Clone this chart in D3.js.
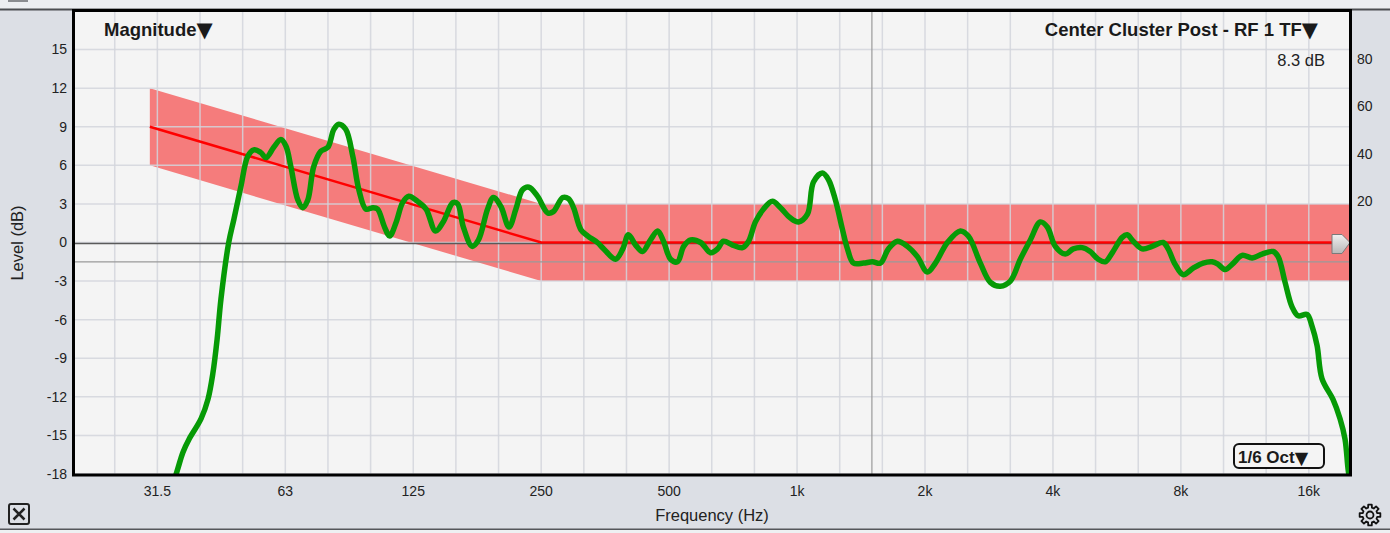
<!DOCTYPE html>
<html>
<head>
<meta charset="utf-8">
<script src="https://cdn.jsdelivr.net/npm/d3@7"></script>
<style>
	html, body { margin: 0; padding: 0; background: #dcdfe5; overflow: hidden; }
	svg { display: block; font-family: "Liberation Sans", Arial, Helvetica, sans-serif; }
</style>
</head>
<body>
<div id="chart"></div>
<script>
// measured transfer function, 1/6 oct smoothing (Hz, dB)
var freqs = [33.3, 34.9, 35.9, 37.1, 39.6, 41.1, 42.2, 43.2, 44.1, 46.0, 47.3, 49.1, 51.0, 52.7, 54.7, 56.3, 58.7,
	61.0, 62.7, 64.4, 66.9, 68.7, 70.6, 72.9, 75.8, 78.7, 81.3, 83.5, 86.7, 90.1, 93.1, 96.7, 100.4, 103, 107, 110,
	114, 118, 122, 128, 134, 141, 147, 155, 159, 164, 172, 178, 187, 193, 201, 210, 218, 226, 234, 245, 259, 267,
	281, 290, 298, 310, 322, 339, 351, 374, 389, 401, 417, 433, 452, 470, 485, 504, 523, 541, 562, 593, 626, 650,
	671, 705, 744, 769, 798, 834, 875, 914, 965, 1008, 1058, 1093, 1147, 1185, 1231, 1279, 1314, 1357, 1433, 1504,
	1571, 1640, 1722, 1818, 1919, 2026, 2116, 2258, 2422, 2529, 2699, 2850, 3008, 3176, 3352, 3539, 3736, 3880,
	4051, 4276, 4465, 4688, 4895, 5112, 5310, 5515, 5822, 5982, 6179, 6488, 6848, 7268, 7467, 7756, 8099, 8550,
	9025, 9476, 9789, 10170, 10560, 11150, 11770, 12420, 13190, 13550, 14070, 14610, 15100, 15850, 16280, 16730,
	17190, 18240, 18950, 19470, 19790, 20000];
var levels = [-19.8, -17.6, -16.3, -15.3, -13.7, -12.2, -10.2, -7.5, -4.4, 0, 1.8, 4.3, 6.7, 7.2, 7.0, 6.6, 7.4,
	8.0, 7.5, 5.9, 3.3, 2.7, 3.3, 5.9, 7.1, 7.4, 8.8, 9.2, 8.8, 6.7, 4.1, 2.6, 2.7, 2.6, 1.2, 0.5,
	1.6, 3.1, 3.6, 3.2, 2.6, 0.9, 1.6, 3.1, 3.0, 1.2, -0.3, 0.2, 2.6, 3.5, 2.8, 1.2, 2.6, 4.1, 4.3, 3.6, 2.3, 2.4,
	3.5, 3.4, 2.7, 1.0, 0.5, 0, -0.5, -1.3, -0.5, 0.6, -0.2, -0.7, 0.2, 0.9, 0.1, -1.3, -1.5, -0.3, 0.2, 0, -0.8, -0.5,
	0.1, -0.2, -0.4, 0.1, 1.6, 2.6, 3.2, 2.7, 1.9, 1.6, 2.2, 4.7, 5.4, 4.9, 3.3, 1.0, -0.5, -1.6, -1.6, -1.5,
	-1.6, -0.5, 0.1, -0.3, -1.1, -2.3, -1.6, 0, 0.9, 0.5, -1.6, -3.1, -3.4, -3.0, -1.3, 0.2, 1.6, 1.2,
	-0.3, -0.9, -0.5, -0.4, -0.7, -1.3, -1.5, -0.8, 0.4, 0.6, 0.1, -0.5, -0.3, 0, -0.5, -1.7, -2.5, -2.0,
	-1.6, -1.5, -1.7, -2.1, -1.7, -1.0, -1.2, -0.9, -0.7, -1.1, -3.1, -5.0, -5.7, -5.6, -6.5, -8.0,
	-10.6, -12.2, -13.7, -15.3, -17.6, -18.6];

// target curve with tolerance window
var targetFreqs = [30, 250, 20000];
var targetLevels = [9, 0, 0];
var tolerance = 3;

var levelTicks = [-18, -15, -12, -9, -6, -3, 0, 3, 6, 9, 12, 15];
var octaveFreqs = [31.25, 62.5, 125, 250, 500, 1000, 2000, 4000, 8000, 16000];
var octaveLabels = ['31.5', '63', '125', '250', '500', '1k', '2k', '4k', '8k', '16k'];
var rightTicks = [20, 40, 60, 80];
var cursorFreq = 1500, cursorLevel = -1.5;

var width = 1390, height = 533;
var plot = { l: 75, r: 1350, t: 11, b: 474 };

var svg = d3.select('#chart').append('svg')
	.attr('width', width)
	.attr('height', height);

var x = d3.scaleLog().domain([20, 20000]).range([plot.l, plot.r]);
var y = d3.scaleLinear().domain([-18, 18]).range([plot.b, plot.t]);
var yRight = d3.scaleLinear().domain([0, 100]).range([247, plot.t]);

// window chrome
svg.append('rect').attr('x', 0).attr('y', 0).attr('width', width).attr('height', height).attr('fill', '#dcdfe5');
svg.append('rect').attr('x', 0).attr('y', 0).attr('width', width).attr('height', 9).attr('fill', '#eceef1');
svg.append('rect').attr('x', 8).attr('y', 0).attr('width', 20).attr('height', 2).attr('fill', '#8a8c90');
svg.append('rect').attr('x', 0).attr('y', 8.5).attr('width', width).attr('height', 2).attr('fill', '#4c4e52');
svg.append('rect').attr('x', 0).attr('y', 528.5).attr('width', width).attr('height', 1.5).attr('fill', '#55575b');
svg.append('rect').attr('x', 0).attr('y', 530).attr('width', width).attr('height', 3).attr('fill', '#eef0f2');

svg.append('defs').append('clipPath').attr('id', 'clip')
	.append('rect')
	.attr('x', plot.l).attr('y', plot.t)
	.attr('width', plot.r - plot.l).attr('height', plot.b - plot.t);

var g = svg.append('g').attr('clip-path', 'url(#clip)');
g.append('rect')
	.attr('x', plot.l).attr('y', plot.t)
	.attr('width', plot.r - plot.l).attr('height', plot.b - plot.t)
	.attr('fill', '#f4f4f4');

// tolerance band
var band = targetFreqs.map(function(f, i) { return { f: f, v: targetLevels[i] }; });
g.append('path')
	.datum(band)
	.attr('fill', '#f57c7c')
	.attr('d', d3.area()
		.x(function(d) { return x(d.f); })
		.y0(function(d) { return y(d.v - tolerance); })
		.y1(function(d) { return y(d.v + tolerance); }));

// 1/3 octave grid
var thirds = d3.range(-16, 15).map(function(k) { return 1000 * Math.pow(2, k / 3); });
g.selectAll('.vgrid').data(thirds).enter().append('line')
	.attr('class', 'vgrid')
	.attr('x1', function(d) { return x(d); }).attr('x2', function(d) { return x(d); })
	.attr('y1', plot.t).attr('y2', plot.b)
	.attr('stroke', '#d2d5dc').attr('stroke-opacity', 0.85).attr('stroke-width', 1.5);
g.selectAll('.hgrid').data(levelTicks).enter().append('line')
	.attr('class', 'hgrid')
	.attr('x1', plot.l).attr('x2', plot.r)
	.attr('y1', function(d) { return y(d); }).attr('y2', function(d) { return y(d); })
	.attr('stroke', '#d2d5dc').attr('stroke-opacity', 0.85).attr('stroke-width', 1.5);

// cursors and zero line
g.append('line')
	.attr('x1', x(cursorFreq)).attr('x2', x(cursorFreq))
	.attr('y1', plot.t).attr('y2', plot.b)
	.attr('stroke', '#9a9a9a').attr('stroke-width', 1.2);
g.append('line')
	.attr('x1', plot.l).attr('x2', plot.r)
	.attr('y1', y(cursorLevel)).attr('y2', y(cursorLevel))
	.attr('stroke', '#9a9a9a').attr('stroke-width', 1.2);
g.append('line')
	.attr('x1', plot.l).attr('x2', plot.r)
	.attr('y1', y(0) + 1).attr('y2', y(0) + 1)
	.attr('stroke', '#5a5a5a').attr('stroke-width', 1.5);

// target line
g.append('path')
	.datum(band)
	.attr('fill', 'none')
	.attr('stroke', '#ff0000')
	.attr('stroke-width', 2.5)
	.attr('d', d3.line()
		.x(function(d) { return x(d.f); })
		.y(function(d) { return y(d.v); }));

// measured curve
var meas = freqs.map(function(f, i) { return { f: f, v: levels[i] }; });
g.append('path')
	.datum(meas)
	.attr('fill', 'none')
	.attr('stroke', '#069a06')
	.attr('stroke-width', 5.5)
	.attr('stroke-linejoin', 'round')
	.attr('stroke-linecap', 'round')
	.attr('d', d3.line()
		.curve(d3.curveCatmullRom.alpha(0.5))
		.x(function(d) { return x(d.f); })
		.y(function(d) { return y(d.v); }));

// offset handle at right edge
var grad = svg.select('defs').append('linearGradient').attr('id', 'hgrad')
	.attr('x1', 0).attr('y1', 0).attr('x2', 0).attr('y2', 1);
grad.append('stop').attr('offset', '0%').attr('stop-color', '#f0f0f0');
grad.append('stop').attr('offset', '100%').attr('stop-color', '#b8b8b8');
var hy = y(0);
svg.append('path')
	.attr('d', 'M' + (plot.r - 18) + ',' + (hy - 8) + 'H' + (plot.r - 8) + 'L' + plot.r + ',' + hy +
		'L' + (plot.r - 8) + ',' + (hy + 11) + 'H' + (plot.r - 18) + 'Z')
	.attr('fill', 'url(#hgrad)')
	.attr('stroke', '#7a7a7a')
	.attr('stroke-width', 1);

// frame
svg.append('rect')
	.attr('x', plot.l - 1.5).attr('y', plot.t - 0.5)
	.attr('width', plot.r - plot.l + 2).attr('height', plot.b - plot.t + 1.5)
	.attr('fill', 'none')
	.attr('stroke', '#000')
	.attr('stroke-width', 3);

// axes labels
svg.selectAll('.ytick').data(levelTicks).enter().append('text')
	.attr('class', 'ytick')
	.attr('x', 67).attr('y', function(d) { return y(d); })
	.attr('dy', '0.35em')
	.attr('text-anchor', 'end')
	.attr('font-size', 14)
	.attr('fill', '#222')
	.text(function(d) { return d; });
svg.selectAll('.rtick').data(rightTicks).enter().append('text')
	.attr('class', 'rtick')
	.attr('x', 1357).attr('y', function(d) { return yRight(d) + 1; })
	.attr('dy', '0.35em')
	.attr('font-size', 14)
	.attr('fill', '#222')
	.text(function(d) { return d; });
svg.selectAll('.xtick').data(octaveFreqs).enter().append('text')
	.attr('class', 'xtick')
	.attr('x', function(d) { return x(d); }).attr('y', 496)
	.attr('text-anchor', 'middle')
	.attr('font-size', 14)
	.attr('fill', '#222')
	.text(function(d, i) { return octaveLabels[i]; });
svg.append('text')
	.attr('x', 712).attr('y', 521)
	.attr('text-anchor', 'middle')
	.attr('font-size', 16.5)
	.attr('fill', '#222')
	.text('Frequency (Hz)');
svg.append('text')
	.attr('transform', 'translate(23,243) rotate(-90)')
	.attr('text-anchor', 'middle')
	.attr('font-size', 16.5)
	.attr('fill', '#222')
	.text('Level (dB)');

// header texts, with a larger drop-down triangle
function dropLabel(xPos, yPos, anchor, label, size, triSize) {
	var t = svg.append('text')
		.attr('x', xPos).attr('y', yPos)
		.attr('text-anchor', anchor)
		.attr('font-size', size).attr('font-weight', 'bold')
		.attr('fill', '#1a1a1a');
	t.append('tspan').text(label);
	t.append('tspan')
		.attr('font-family', '"DejaVu Sans", sans-serif')
		.attr('font-size', triSize)
		.attr('dy', 1)
		.text('\u25BC');
	return t;
}
dropLabel(104, 36, 'start', 'Magnitude', 18.5, 21);
dropLabel(1318, 36, 'end', 'Center Cluster Post - RF 1 TF', 18.5, 21);
svg.append('text')
	.attr('x', 1325).attr('y', 66)
	.attr('text-anchor', 'end')
	.attr('font-size', 16.5)
	.attr('fill', '#222')
	.text('8.3 dB');

// smoothing selector
svg.append('rect')
	.attr('x', 1234).attr('y', 444).attr('width', 90).attr('height', 24).attr('rx', 5)
	.attr('fill', '#f4f4f4').attr('stroke', '#111').attr('stroke-width', 2);
dropLabel(1238, 463, 'start', '1/6 Oct', 17, 17.5);

// close box
svg.append('rect')
	.attr('x', 9).attr('y', 504).attr('width', 20).attr('height', 20).attr('rx', 2)
	.attr('fill', 'none').attr('stroke', '#222').attr('stroke-width', 2);
svg.append('path')
	.attr('d', 'M13.5,508.5L24.5,519.5M24.5,508.5L13.5,519.5')
	.attr('stroke', '#222').attr('stroke-width', 2.5);

// gear icon
var gearPts = [];
for (var k = 0; k < 8; k++) {
	var a = k * Math.PI / 4;
	[[-0.26, 7.5], [-0.17, 10.5], [0.17, 10.5], [0.26, 7.5]].forEach(function(p) {
		gearPts.push([1370 + p[1] * Math.cos(a + p[0]), 515 + p[1] * Math.sin(a + p[0])]);
	});
}
svg.append('path')
	.attr('d', d3.line().curve(d3.curveLinearClosed)(gearPts))
	.attr('fill', 'none').attr('stroke', '#111').attr('stroke-width', 1.8).attr('stroke-linejoin', 'round');
svg.append('circle').attr('cx', 1370).attr('cy', 515).attr('r', 3.5)
	.attr('fill', 'none').attr('stroke', '#111').attr('stroke-width', 1.8);
</script>
</body>
</html>
